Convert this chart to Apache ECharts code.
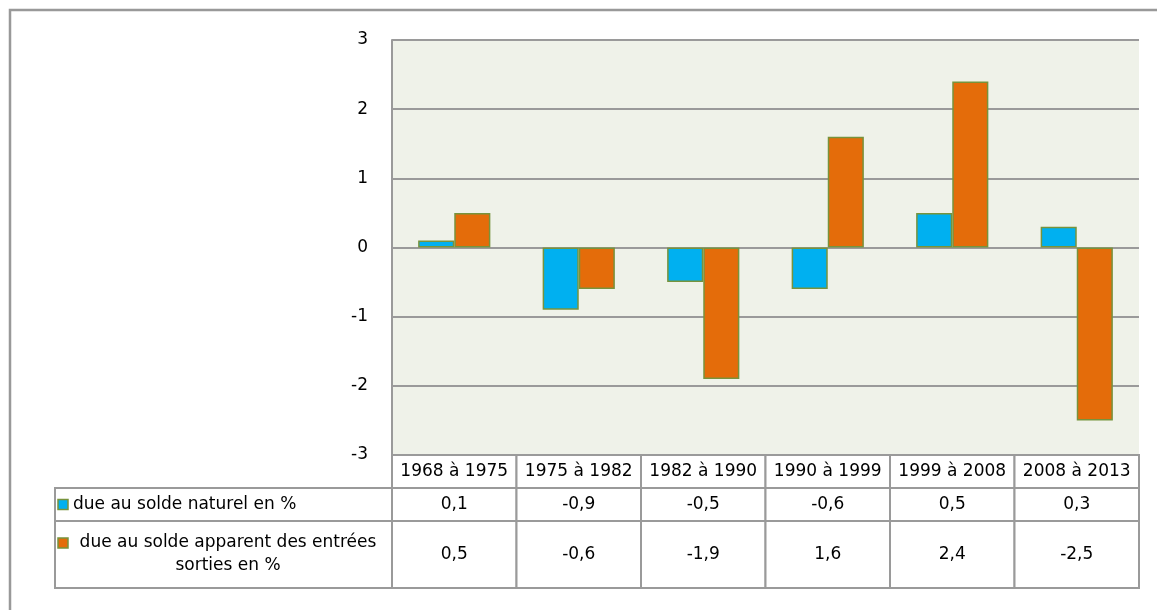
<!DOCTYPE html>
<html>
<head>
<meta charset="utf-8">
<script src="https://cdn.jsdelivr.net/npm/echarts@6/dist/echarts.min.js"></script>
<style>
  html, body { margin: 0; padding: 0; background: #fff; }
  #main { width: 1157px; height: 610px; }
</style>
</head>
<body>
<div id="main"></div>
<script>
// données
var periodes = ["1968 à 1975", "1975 à 1982", "1982 à 1990", "1990 à 1999", "1999 à 2008", "2008 à 2013"];
var soldeNaturel = [0.1, -0.9, -0.5, -0.6, 0.5, 0.3];
var soldeApparent = [0.5, -0.6, -1.9, 1.6, 2.4, -2.5];
var libelles = ["due au solde naturel en %", "due au solde apparent des entrées\nsorties en %"];
var yTicks = [-3, -2, -1, 0, 1, 2, 3];

var BLEU = "#00B0F0", ORANGE = "#E46C0A", BORD = "#77933C", GRIS = "#9a9a9a";
var FONT = "DejaVu Sans";

// lignes du tableau (en px dans la grille du tableau) : entête, ligne 1, ligne 2
var rows = [[0, 33], [33, 66], [66, 133]];

function fmt(v) { return String(v).replace(".", ","); }

var cells = [];
for (var r = 0; r < 3; r++) {
  for (var c = 0; c < periodes.length; c++) cells.push([c, r]);
}

var myChart = echarts.init(document.getElementById("main"));

var option = {
  animation: false,
  textStyle: { fontFamily: FONT },
  graphic: [{
    type: "rect",
    shape: { x: 10, y: 10, width: 1170, height: 640 },
    style: { fill: null, stroke: "#999", lineWidth: 2.5 },
    z: -1
  }],
  grid: [
    { left: 392, top: 40, width: 747, height: 415, show: true, backgroundColor: "#EFF2E9", borderWidth: 0 },
    { left: 392, top: 455, width: 747, height: 133 }
  ],
  xAxis: [
    { type: "category", gridIndex: 0, data: periodes, axisLine: { show: false }, axisTick: { show: false }, axisLabel: { show: false } },
    { type: "category", gridIndex: 1, data: periodes, show: false }
  ],
  yAxis: [
    {
      type: "value", gridIndex: 0, min: -3, max: 3, interval: 1,
      axisLine: { show: true, lineStyle: { color: GRIS, width: 2 } },
      axisTick: { show: false },
      axisLabel: { color: "#000", fontSize: 17, margin: 24, formatter: function (v) { return yTicks.indexOf(v) >= 0 ? String(v) : ""; } },
      splitLine: { lineStyle: { color: GRIS, width: 2 } }
    },
    { type: "value", gridIndex: 1, min: 0, max: 133, inverse: true, show: false }
  ],
  series: [
    {
      name: libelles[0], type: "bar", xAxisIndex: 0, yAxisIndex: 0,
      data: soldeNaturel, barGap: 0, barCategoryGap: "42%",
      itemStyle: { color: BLEU, borderColor: BORD, borderWidth: 1.5 }
    },
    {
      name: libelles[1], type: "bar", xAxisIndex: 0, yAxisIndex: 0,
      data: soldeApparent, barGap: 0, barCategoryGap: "42%",
      itemStyle: { color: ORANGE, borderColor: BORD, borderWidth: 1.5 }
    },
    {
      // cellules du tableau de données
      type: "custom", xAxisIndex: 1, yAxisIndex: 1, data: cells, silent: true,
      renderItem: function (params, api) {
        var c = api.value(0), r = api.value(1);
        var bw = api.size([1, 0])[0];
        var top = api.coord([c, rows[r][0]]);
        var bot = api.coord([c, rows[r][1]]);
        var x0 = top[0] - bw / 2;
        var txt = r === 0 ? periodes[c] : fmt(r === 1 ? soldeNaturel[c] : soldeApparent[c]);
        var children = [{
          type: "rect",
          shape: { x: x0, y: top[1], width: bw, height: bot[1] - top[1] },
          style: { fill: "#fff", stroke: GRIS, lineWidth: 2 }
        }, {
          type: "text",
          style: { x: top[0], y: (top[1] + bot[1]) / 2, text: txt, align: "center", verticalAlign: "middle", fill: "#000", font: "17px '" + FONT + "'" }
        }];
        if (c === 0 && r > 0) {
          // colonne des libellés (légende)
          var lx = 55;
          var sq = r === 1 ? BLEU : ORANGE;
          var midY = (top[1] + bot[1]) / 2;
          var lines = libelles[r - 1].split("\n");
          var firstY = lines.length > 1 ? midY - 11.5 : midY;
          children.push({
            type: "rect",
            shape: { x: lx, y: top[1], width: x0 - lx, height: bot[1] - top[1] },
            style: { fill: "#fff", stroke: GRIS, lineWidth: 2 }
          }, {
            type: "rect",
            shape: { x: lx + 3, y: firstY - 5, width: 10, height: 10 },
            style: { fill: sq, stroke: BORD, lineWidth: 1.5 }
          }, {
            type: "text",
            style: { x: lines.length > 1 ? 228 : lx + 18, y: midY, text: libelles[r - 1], align: lines.length > 1 ? "center" : "left", verticalAlign: "middle", lineHeight: 23, fill: "#000", font: "17px '" + FONT + "'" }
          });
        }
        return { type: "group", children: children };
      }
    }
  ]
};

myChart.setOption(option);
</script>
</body>
</html>
